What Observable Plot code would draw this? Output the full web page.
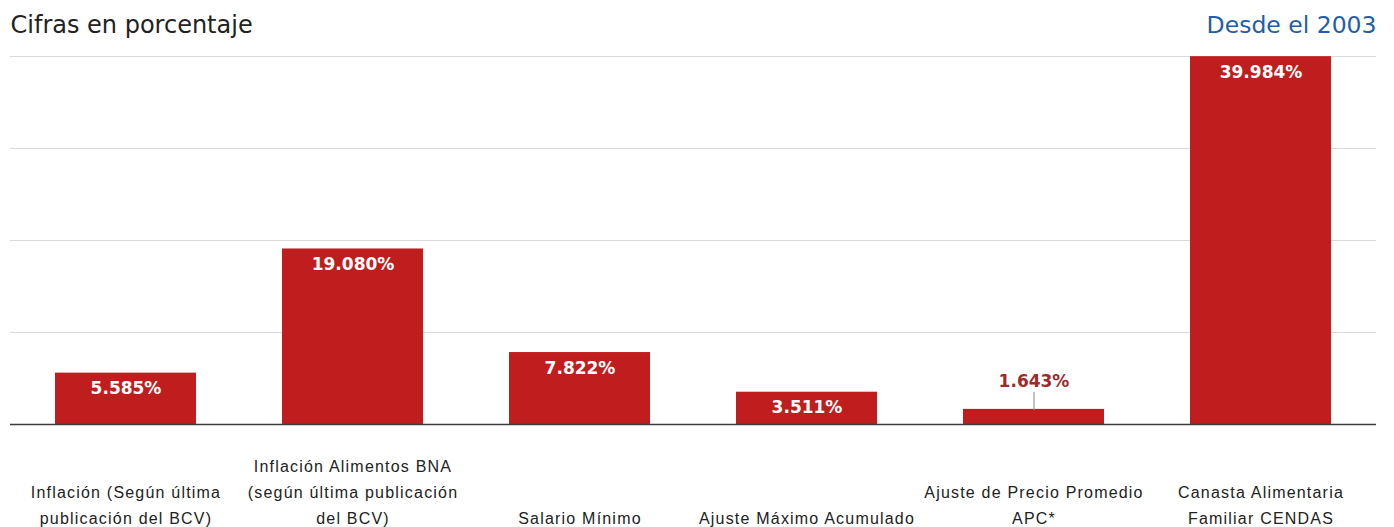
<!DOCTYPE html>
<html>
<head>
<meta charset="utf-8">
<script src="https://cdn.jsdelivr.net/npm/d3@7"></script>
<script src="https://cdn.jsdelivr.net/npm/@observablehq/plot@0.6"></script>
<style>
  html, body { margin: 0; padding: 0; background: #fff; }
  .xaxis text { letter-spacing: 1.2px; }
</style>
</head>
<body>
<div id="chart"></div>
<script>
const categories = [
  "Inflación (Según última\npublicación del BCV)",
  "Inflación Alimentos BNA\n(según última publicación\ndel BCV)",
  "Salario Mínimo",
  "Ajuste Máximo Acumulado",
  "Ajuste de Precio Promedio\nAPC*",
  "Canasta Alimentaria\nFamiliar CENDAS"
];
const values = [5.585, 19.080, 7.822, 3.511, 1.643, 39.984];
const valueLabels = ["5.585%", "19.080%", "7.822%", "3.511%", "1.643%", "39.984%"];
const yTicks = [0, 10, 20, 30, 40];
const title = "Cifras en porcentaje";
const subtitle = "Desde el 2003";

const data = categories.map((c, i) => ({cat: c, value: values[i], label: valueLabels[i]}));
const inside = data.filter(d => d.value >= 3);
const outside = data.filter(d => d.value < 3);

const chart = Plot.plot({
  width: 1394,
  height: 527,
  marginTop: 56,
  marginBottom: 103,
  marginLeft: 10,
  marginRight: 18,
  style: {fontFamily: "DejaVu Sans", background: "#fff"},
  x: {domain: categories, paddingInner: 0.38, paddingOuter: 0.19, axis: null},
  y: {domain: [0, 40], axis: null},
  marks: [
    Plot.ruleY(yTicks.filter(t => t > 0), {stroke: "#d9d9d9", strokeWidth: 1.2}),
    Plot.barY(data, {x: "cat", y: "value", fill: "#c01e1e"}),
    Plot.ruleY([0], {stroke: "#3a3a3a", strokeWidth: 1.6}),
    Plot.text(inside, {x: "cat", y: "value", text: "label", fill: "#fff", fontWeight: "bold", fontSize: 17, lineAnchor: "top", dy: 9}),
    Plot.vector(outside, {
      x: "cat", y: "value", length: 17, rotate: 0, anchor: "start", stroke: "#999", strokeWidth: 1.2,
      shape: {draw(ctx, l) { ctx.moveTo(0, 0); ctx.lineTo(0, -l); }}
    }),
    Plot.text(outside, {x: "cat", y: "value", text: "label", fill: "#9e2a2b", fontWeight: "bold", fontSize: 17, lineAnchor: "bottom", dy: -22}),
    Plot.axisX({
      className: "xaxis",
      tickSize: 0, tickPadding: 0, dy: 99, lineAnchor: "bottom", lineHeight: 1.6,
      fontSize: 16, fontFamily: "Liberation Sans", fill: "#222", label: null
    }),
    Plot.text([title], {frameAnchor: "top-left", text: d => d, textAnchor: "start", lineAnchor: "bottom", dy: -24, fontSize: 24, fill: "#222"}),
    Plot.text([subtitle], {frameAnchor: "top-right", text: d => d, textAnchor: "end", lineAnchor: "bottom", dy: -24, fontSize: 23.5, fill: "#1f5ea8"})
  ]
});
document.getElementById("chart").appendChild(chart);
</script>
</body>
</html>
